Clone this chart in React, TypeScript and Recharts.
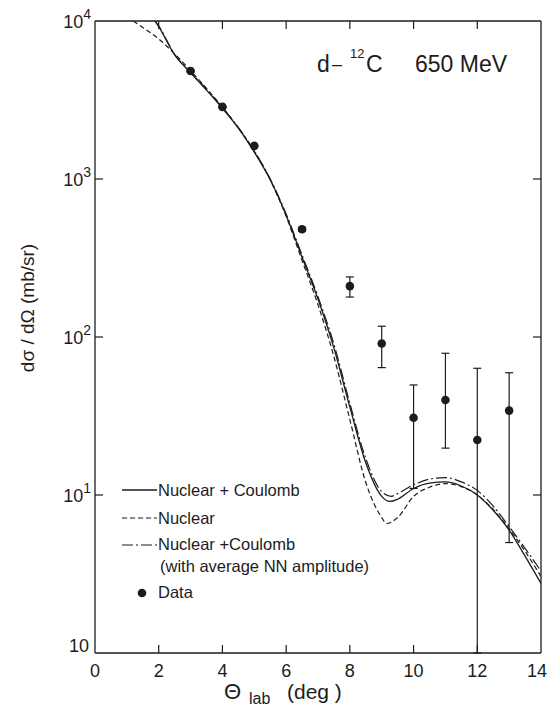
import React from 'react';
import { ComposedChart, Line, Scatter, ErrorBar, XAxis, YAxis } from 'recharts';

const INK = '#1c1c1c';
const FONT = '"Liberation Sans", Arial, sans-serif';

// Nuclear + Coulomb (solid)
const solidAngle = [1.88, 2, 2.5, 3, 3.5, 4, 4.5, 5, 5.5, 6, 6.5, 7, 7.5, 8, 8.5, 9, 9.25, 9.5, 10, 10.5, 11, 11.5, 12, 12.5, 13, 13.5, 14];
const solidSigma = [10000, 9200, 6100, 4700, 3650, 2800, 2100, 1480, 990, 590, 320, 174, 85, 36, 16, 9.8, 9.1, 9.4, 11, 11.9, 12.1, 11.4, 10, 8.0, 6.0, 4.1, 2.76];

// Nuclear only (dashed)
const nuclearAngle = [1.2, 1.5, 2, 2.5, 3, 3.5, 4, 4.5, 5, 5.5, 6, 6.5, 7, 7.5, 8, 8.5, 9, 9.15, 9.5, 10, 10.5, 11, 11.5, 12, 12.5, 13, 13.5, 14];
const nuclearSigma = [10000, 9100, 7700, 6200, 4850, 3750, 2850, 2100, 1500, 990, 580, 305, 160, 75, 30, 12, 7.2, 6.6, 7.2, 9.8, 11.2, 11.8, 11.3, 10, 8.1, 6.1, 4.4, 3.05];

// Nuclear + Coulomb with average NN amplitude (dash-dot)
const avgAngle = [1.88, 2, 2.5, 3, 3.5, 4, 4.5, 5, 5.5, 6, 6.5, 7, 7.5, 8, 8.5, 9, 9.3, 9.5, 10, 10.5, 11, 11.5, 12, 12.5, 13, 13.5, 14];
const avgSigma = [10000, 9300, 6150, 4750, 3700, 2830, 2120, 1500, 1000, 600, 330, 180, 90, 38, 17, 10.5, 9.8, 10.2, 11.6, 12.6, 12.9, 12.1, 10.7, 8.5, 6.3, 4.6, 3.3];

// measured points
const dataAngle = [3, 4, 5, 6.5, 8, 9, 10, 11, 12, 13];
const dataSigma = [4830, 2860, 1620, 481, 210, 91, 30.8, 39.9, 22.3, 34.2];
const dataLow = [4830, 2860, 1620, 467, 179, 64, 11, 19.8, 1, 5.0];
const dataHigh = [4830, 2860, 1620, 495, 240, 117, 49.7, 78.9, 63.4, 59.4];

const xTicks = [0, 2, 4, 6, 8, 10, 12, 14];
const yTicks = [1, 10, 100, 1000, 10000];
const yTickExp = ['', '1', '2', '3', '4'];

const toRows = (xs: number[], ys: number[]) => xs.map((x, i) => ({ x, y: ys[i] }));
const solidRows = toRows(solidAngle, solidSigma);
const nuclearRows = toRows(nuclearAngle, nuclearSigma);
const avgRows = toRows(avgAngle, avgSigma);
const pointRows = dataAngle.map((x, i) => ({
  x,
  y: dataSigma[i],
  err: [dataSigma[i] - dataLow[i], dataHigh[i] - dataSigma[i]],
}));

// plot frame (margin + 1px axis boxes)
const W = 547;
const H = 709;
const M = { top: 20, right: 5, bottom: 55, left: 94 };
const L = M.left + 1;
const R = W - M.right - 1;
const T = M.top + 1;
const B = H - M.bottom - 1;
const TICK = 8;
const px = (v: number) => L + (v / 14) * (R - L);
const py = (v: number) => T + ((4 - Math.log10(v)) / 4) * (B - T);

const BottomTick = (p: any) => {
  const { x, y, payload } = p;
  const v = payload.value;
  const dx = v === 14 ? -4 : 0;
  return (
    <text x={x + dx} y={y + 24} textAnchor="middle" fontSize={18} fill={INK} fontFamily={FONT}>{v}</text>
  );
};

const NoLabel = () => <g />;

const LeftTick = (p: any) => {
  const { x, y, payload, index } = p;
  const v = payload.value;
  const idx = yTicks.indexOf(v);
  const exp = yTickExp[idx >= 0 ? idx : index];
  return exp ? (
    <text x={x - 4} y={y + 7} textAnchor="end" fontSize={18} fill={INK} fontFamily={FONT}>
      10<tspan dy={-9} fontSize={14}>{exp}</tspan>
    </text>
  ) : (
    <text x={x - 6} y={y - 1} textAnchor="end" fontSize={18} fill={INK} fontFamily={FONT}>10</text>
  );
};

const DataDot = (p: any) => {
  const { cx, cy } = p;
  if (cx == null || cy == null) return <g />;
  return <circle cx={cx} cy={cy} r={4.3} fill={INK} />;
};

const axisLine = { stroke: INK, strokeWidth: 1.3 };

export default function App() {
  return (
    <div style={{ position: 'absolute', left: 0, top: 0, width: W, height: H, background: '#fff', fontFamily: FONT }}>
      <ComposedChart width={W} height={H} margin={M}>
        <XAxis xAxisId="b" type="number" dataKey="x" domain={[0, 14]} ticks={xTicks} interval={0}
          height={1} tickSize={0} tickMargin={0} tickLine={false} axisLine={axisLine} tick={BottomTick} allowDataOverflow />
        <XAxis xAxisId="t" orientation="top" type="number" dataKey="x" domain={[0, 14]} ticks={xTicks} interval={0}
          height={1} tickSize={0} tickMargin={0} tickLine={false} axisLine={axisLine} tick={NoLabel} allowDataOverflow />
        <YAxis yAxisId="l" type="number" dataKey="y" scale="log" domain={[1, 10000]} ticks={yTicks} interval={0}
          width={1} tickSize={0} tickMargin={0} tickLine={false} axisLine={axisLine} tick={LeftTick} allowDataOverflow />
        <YAxis yAxisId="r" orientation="right" type="number" dataKey="y" scale="log" domain={[1, 10000]} ticks={yTicks} interval={0}
          width={1} tickSize={0} tickMargin={0} tickLine={false} axisLine={axisLine} tick={NoLabel} allowDataOverflow />

        <Line xAxisId="b" yAxisId="l" data={nuclearRows} dataKey="y" type="monotone" dot={false}
          stroke={INK} strokeWidth={1.2} strokeDasharray="5 3" isAnimationActive={false} />
        <Line xAxisId="b" yAxisId="l" data={avgRows} dataKey="y" type="monotone" dot={false}
          stroke={INK} strokeWidth={1.2} strokeDasharray="11 3 2 3" isAnimationActive={false} />
        <Line xAxisId="b" yAxisId="l" data={solidRows} dataKey="y" type="monotone" dot={false}
          stroke={INK} strokeWidth={1.3} isAnimationActive={false} />
        <Scatter xAxisId="b" yAxisId="l" data={pointRows} dataKey="y" shape={DataDot} isAnimationActive={false}>
          <ErrorBar dataKey="err" direction="y" width={4} stroke={INK} strokeWidth={1.2} />
        </Scatter>
      </ComposedChart>

      <svg width={W} height={H} style={{ position: 'absolute', left: 0, top: 0, pointerEvents: 'none' }}>
        {/* inward ticks on all four sides */}
        <g stroke={INK} strokeWidth={1.2}>
          {xTicks.slice(1, -1).map((v) => (
            <g key={`x${v}`}>
              <line x1={px(v)} x2={px(v)} y1={B} y2={B - TICK} />
              <line x1={px(v)} x2={px(v)} y1={T} y2={T + TICK} />
            </g>
          ))}
          {yTicks.slice(1, -1).map((v) => (
            <g key={`y${v}`}>
              <line x1={L} x2={L + TICK} y1={py(v)} y2={py(v)} />
              <line x1={R} x2={R - TICK} y1={py(v)} y2={py(v)} />
            </g>
          ))}
        </g>

        <g fill={INK} fontFamily={FONT}>
          <text x={317} y={72} fontSize={23}>d</text>
          <text x={332} y={70} fontSize={18}>–</text>
          <text x={350} y={58} fontSize={13}>12</text>
          <text x={366} y={72} fontSize={23}>C</text>
          <text x={415} y={72} fontSize={23}>650 MeV</text>

          <line x1={122} x2={157} y1={490} y2={490} stroke={INK} strokeWidth={1.3} />
          <text x={158} y={496} fontSize={16.5}>Nuclear + Coulomb</text>
          <line x1={122} x2={157} y1={518} y2={518} stroke={INK} strokeWidth={1.2} strokeDasharray="5 3" />
          <text x={158} y={524} fontSize={16.5}>Nuclear</text>
          <line x1={122} x2={157} y1={545} y2={545} stroke={INK} strokeWidth={1.2} strokeDasharray="11 3 2 3" />
          <text x={158} y={550} fontSize={16.5}>Nuclear +Coulomb</text>
          <text x={160} y={572} fontSize={16.5}>(with average NN amplitude)</text>
          <circle cx={142} cy={593} r={4.3} fill={INK} />
          <text x={158} y={598} fontSize={16.5}>Data</text>

          <text x={224} y={699} fontSize={22}>Θ</text>
          <text x={249} y={704} fontSize={16}>lab</text>
          <text x={287} y={699} fontSize={21}>(deg )</text>

          <text transform="translate(34 308) rotate(-90)" textAnchor="middle" fontSize={19}>dσ / dΩ  (mb/sr)</text>
        </g>
      </svg>
    </div>
  );
}
